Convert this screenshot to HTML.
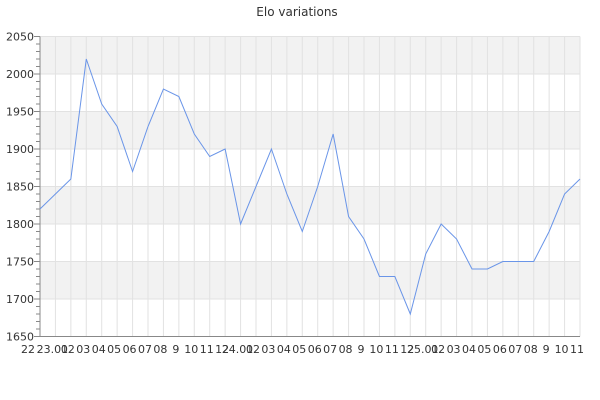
<!DOCTYPE html><html><head><style>body{margin:0;background:#fff}svg{display:block;font-family:"DejaVu Sans","Liberation Sans",sans-serif}</style></head><body>
<svg width="600" height="400" xmlns="http://www.w3.org/2000/svg">
<text x="297" y="16" text-anchor="middle" font-size="12" fill="#333">Elo variations</text>
<g fill="#f2f2f2">
<rect x="40" y="36.5" width="540" height="37.5"/>
<rect x="40" y="111.5" width="540" height="37.5"/>
<rect x="40" y="186.5" width="540" height="37.5"/>
<rect x="40" y="261.5" width="540" height="37.5"/>
</g>
<g id="grid" stroke="#e2e2e2" stroke-width="1"></g>
<g id="ax" stroke="#888" stroke-width="1"></g>
<g id="lab" font-size="11" fill="#333"></g>
<polyline id="ln" fill="none" stroke="#6a95e8" stroke-width="1"/>
</svg>
<script>
var ns="http://www.w3.org/2000/svg",g=document.getElementById('grid'),ax=document.getElementById('ax'),lab=document.getElementById('lab');
function Y(v){return 36.5+(2050-v)*0.75}
function el(p,t,a,txt){var e=document.createElementNS(ns,t);for(var k in a)e.setAttribute(k,a[k]);if(txt)e.textContent=txt;p.appendChild(e)}
for(var v=1650;v<=2050;v+=50){el(g,'line',{x1:40,x2:580,y1:Y(v),y2:Y(v)});el(lab,'text',{x:34,y:Y(v)+4,'text-anchor':'end'},v)}
for(var v=1650;v<=2050;v+=10){el(ax,'line',{x1:v%50?36:34,x2:40,y1:Y(v),y2:Y(v)})}
var d=[1820,1840,1860,2020,1960,1930,1870,1930,1980,1970,1920,1890,1900,1800,1850,1900,1840,1790,1850,1920,1810,1780,1730,1730,1680,1760,1800,1780,1740,1740,1750,1750,1750,1790,1840,1860];
var labels=["22","23.01","02","03","04","05","06","07","08","9","10","11","12","24.01","02","03","04","05","06","07","08","9","10","11","12","25.01","02","03","04","05","06","07","08","9","10","11"];
var pts=[];
for(var i=0;i<36;i++){var x=40+i*540/35;pts.push(x+','+Y(d[i]));if(i>0)el(g,'line',{x1:x,x2:x,y1:36.5,y2:336.5});
var lx=x-3;if(i==0)lx=28;el(lab,'text',{x:lx,y:353,'text-anchor':'middle'},labels[i]);}
el(ax,'line',{x1:40,x2:40,y1:36.5,y2:336.5});el(ax,'line',{x1:40,x2:580,y1:336.5,y2:336.5});
document.getElementById('ln').setAttribute('points',pts.join(' '));
</script>
</body></html>
